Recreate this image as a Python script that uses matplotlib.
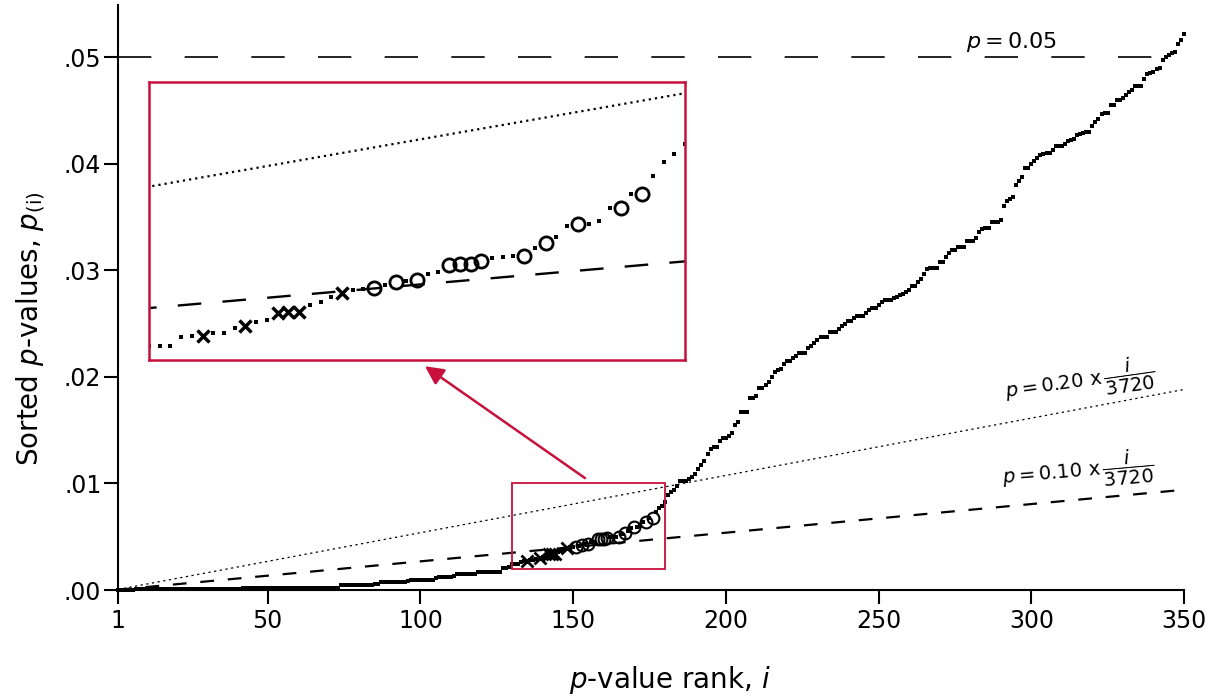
import numpy as np
import matplotlib
matplotlib.use('Agg')
import matplotlib.pyplot as plt
from matplotlib.patches import Rectangle

plt.rcParams['font.family'] = ['DejaVu Sans']
plt.rcParams['mathtext.fontset'] = 'dejavusans'

# ---------------- data ----------------
ranks = np.arange(1, 351)
p_values = [
    0.00001, 0.00002, 0.00003, 0.00003, 0.00004, 0.00004, 0.00005, 0.00005, 0.00006, 0.00006,
    0.00007, 0.00007, 0.00008, 0.00008, 0.00008, 0.00009, 0.00009, 0.00009, 0.00010, 0.00010,
    0.00010, 0.00010, 0.00011, 0.00011, 0.00011, 0.00011, 0.00012, 0.00012, 0.00012, 0.00012,
    0.00012, 0.00013, 0.00013, 0.00013, 0.00013, 0.00013, 0.00014, 0.00014, 0.00014, 0.00014,
    0.00014, 0.00015, 0.00015, 0.00015, 0.00015, 0.00016, 0.00016, 0.00018, 0.00018, 0.00018,
    0.00018, 0.00018, 0.00019, 0.00019, 0.00019, 0.00019, 0.00019, 0.00019, 0.00020, 0.00020,
    0.00020, 0.00020, 0.00020, 0.00020, 0.00020, 0.00021, 0.00021, 0.00021, 0.00021, 0.00021,
    0.00021, 0.00022, 0.00022, 0.00046, 0.00047, 0.00047, 0.00048, 0.00048, 0.00048, 0.00049,
    0.00049, 0.00050, 0.00050, 0.00051, 0.00052, 0.00053, 0.00074, 0.00075, 0.00076, 0.00076,
    0.00077, 0.00077, 0.00078, 0.00078, 0.00079, 0.00080, 0.00093, 0.00093, 0.00094, 0.00094,
    0.00095, 0.00095, 0.00096, 0.00096, 0.00110, 0.00124, 0.00125, 0.00125, 0.00126, 0.00126,
    0.00127, 0.00146, 0.00147, 0.00147, 0.00148, 0.00148, 0.00149, 0.00150, 0.00168, 0.00169,
    0.00170, 0.00170, 0.00171, 0.00172, 0.00172, 0.00173, 0.00209, 0.00210, 0.00212, 0.00240,
    0.00240, 0.00241, 0.00267, 0.00268, 0.00270, 0.00277, 0.00278, 0.00291, 0.00298, 0.00310,
    0.00315, 0.00334, 0.00338, 0.00339, 0.00358, 0.00368, 0.00380, 0.00392, 0.00401, 0.00404,
    0.00407, 0.00416, 0.00424, 0.00428, 0.00430, 0.00448, 0.00452, 0.00474, 0.00475, 0.00476,
    0.00485, 0.00494, 0.00495, 0.00499, 0.00500, 0.00523, 0.00538, 0.00553, 0.00586, 0.00590,
    0.00592, 0.00600, 0.00636, 0.00638, 0.00677, 0.00678, 0.00730, 0.00769, 0.00793, 0.00822,
    0.00890, 0.00920, 0.00940, 0.00980, 0.01020, 0.01020, 0.01022, 0.01040, 0.01060, 0.01090,
    0.01140, 0.01170, 0.01210, 0.01280, 0.01320, 0.01345, 0.01346, 0.01400, 0.01423, 0.01424,
    0.01445, 0.01476, 0.01548, 0.01573, 0.01667, 0.01668, 0.01669, 0.01798, 0.01799, 0.01820,
    0.01892, 0.01893, 0.01923, 0.01948, 0.02000, 0.02042, 0.02060, 0.02073, 0.02120, 0.02148,
    0.02149, 0.02173, 0.02195, 0.02220, 0.02221, 0.02222, 0.02267, 0.02289, 0.02320, 0.02345,
    0.02370, 0.02371, 0.02372, 0.02417, 0.02418, 0.02419, 0.02445, 0.02477, 0.02500, 0.02523,
    0.02524, 0.02550, 0.02570, 0.02571, 0.02572, 0.02595, 0.02627, 0.02642, 0.02643, 0.02673,
    0.02700, 0.02720, 0.02721, 0.02722, 0.02745, 0.02746, 0.02773, 0.02774, 0.02792, 0.02820,
    0.02852, 0.02853, 0.02892, 0.02923, 0.02970, 0.03008, 0.03018, 0.03019, 0.03020, 0.03080,
    0.03081, 0.03127, 0.03164, 0.03190, 0.03191, 0.03220, 0.03221, 0.03222, 0.03277, 0.03278,
    0.03279, 0.03300, 0.03361, 0.03392, 0.03393, 0.03394, 0.03455, 0.03456, 0.03457, 0.03471,
    0.03602, 0.03649, 0.03670, 0.03690, 0.03799, 0.03840, 0.03877, 0.03956, 0.03957, 0.03996,
    0.04030, 0.04056, 0.04080, 0.04096, 0.04097, 0.04098, 0.04128, 0.04168, 0.04169, 0.04170,
    0.04190, 0.04215, 0.04225, 0.04237, 0.04268, 0.04280, 0.04293, 0.04294, 0.04295, 0.04353,
    0.04393, 0.04424, 0.04471, 0.04478, 0.04479, 0.04550, 0.04551, 0.04597, 0.04598, 0.04620,
    0.04643, 0.04670, 0.04690, 0.04728, 0.04729, 0.04730, 0.04800, 0.04847, 0.04848, 0.04862,
    0.04894, 0.04895, 0.04972, 0.05003, 0.05020, 0.05044, 0.05045, 0.05128, 0.05160, 0.05222,
]
x_ranks = [135, 139, 142, 143, 144, 148]
o_ranks = [151, 153, 155, 158, 159, 160, 161, 165, 167, 170, 174, 176]
n_tests = 3720
fdr_low = 0.10
fdr_high = 0.20
alpha = 0.05
xticks = [1, 50, 100, 150, 200, 250, 300, 350]
xtick_labels = ['1', '50', '100', '150', '200', '250', '300', '350']
yticks = [0.0, 0.01, 0.02, 0.03, 0.04, 0.05]
ytick_labels = ['.00', '.01', '.02', '.03', '.04', '.05']
zoom_x = (130, 180)
zoom_y = (0.002, 0.010)

RED = '#C8103C'
W, H = 1216, 698

p = np.array(p_values)
r = ranks
marked = np.isin(r, x_ranks + o_ranks)
px = p[np.array(x_ranks) - 1]
po = p[np.array(o_ranks) - 1]
line_lo = fdr_low * r / n_tests
line_hi = fdr_high * r / n_tests

fig = plt.figure(figsize=(W / 100, H / 100), dpi=100)
ax = fig.add_axes([118 / W, 108 / H, 1066 / W, 585 / H])

ax.plot(r[~marked], p[~marked], 's', ms=2.4, mew=0, color='k', clip_on=False, zorder=3)
ax.plot(x_ranks, px, 'x', ms=8, mew=2.0, color='k', zorder=4)
ax.plot(o_ranks, po, 'o', ms=8.5, mfc='none', mec='k', mew=1.5, zorder=4)
ax.plot([r[0], r[-1]], [alpha, alpha], color='k', lw=1.2, ls=(0, (20, 20)))
ax.plot(r, line_hi, color='k', lw=0.9, ls=(0, (1.8, 2.8)))
ax.plot(r, line_lo, color='k', lw=1.6, ls=(0, (6.2, 6.2)))

ax.add_patch(Rectangle((zoom_x[0], zoom_y[0]), zoom_x[1] - zoom_x[0], zoom_y[1] - zoom_y[0],
                       fill=False, ec=RED, lw=1.3, zorder=5))
ax.annotate('', xy=(101.5, 0.0210), xytext=(153.9, 0.0105),
            arrowprops=dict(arrowstyle='-|>', color=RED, lw=1.8, mutation_scale=28,
                            shrinkA=0, shrinkB=0))

ax.text(293.7, 0.0514, r'$p = 0.05$', fontsize=16, ha='center', va='center')
ax.text(316, 0.0195, r'$p = 0.20\ \mathrm{x}\,\dfrac{i}{3720}$', fontsize=14,
        ha='center', va='center', rotation=8, rotation_mode='anchor')
ax.text(315.3, 0.0111, r'$p = 0.10\ \mathrm{x}\,\dfrac{i}{3720}$', fontsize=14,
        ha='center', va='center', rotation=5, rotation_mode='anchor')

ax.set_xlim(1, 350)
ax.set_ylim(0, 0.0549)
ax.set_xticks(xticks)
ax.set_xticklabels(xtick_labels)
ax.set_yticks(yticks)
ax.set_yticklabels(ytick_labels)
for s in ['top', 'right']:
    ax.spines[s].set_visible(False)
for s in ['left', 'bottom']:
    ax.spines[s].set_linewidth(1.5)
ax.tick_params(direction='out', length=10, width=1.5, labelsize=17, pad=2)
ax.tick_params(axis='x', pad=4)

ax.set_xlabel(r'$p$-value rank, $i$', fontsize=20)
ax.set_ylabel(r'Sorted $p$-values, $p_{\mathrm{(i)}}$', fontsize=20)
ax.xaxis.set_label_coords((670 - 118) / 1066, (590 - 664) / 585)
ax.yaxis.set_label_coords((47 - 118) / 1066, (590 - 329) / 585)

# ---------------- inset ----------------
axin = fig.add_axes([149 / W, 338 / H, 536 / W, 278 / H])
axin.set_facecolor('white')
in_rng = (r >= zoom_x[0]) & (r <= zoom_x[1])
axin.plot(r[in_rng & ~marked], p[in_rng & ~marked], 's', ms=2.8, mew=0, color='k')
axin.plot(x_ranks, px, 'x', ms=9, mew=2.5, color='k', zorder=4)
axin.plot(o_ranks, po, 'o', ms=9.5, mfc='none', mec='k', mew=2.0, zorder=4)
axin.plot(r, line_hi, color='k', lw=1.6, ls=(0, (1, 1.8)))
axin.plot(r, line_lo, color='k', lw=1.7, ls=(0, (10, 9)))
axin.set_xlim(*zoom_x)
axin.set_ylim(*zoom_y)
axin.set_xticks([])
axin.set_yticks([])
for s in axin.spines.values():
    s.set_color(RED)
    s.set_linewidth(1.8)

fig.savefig('out.png', dpi=100)
